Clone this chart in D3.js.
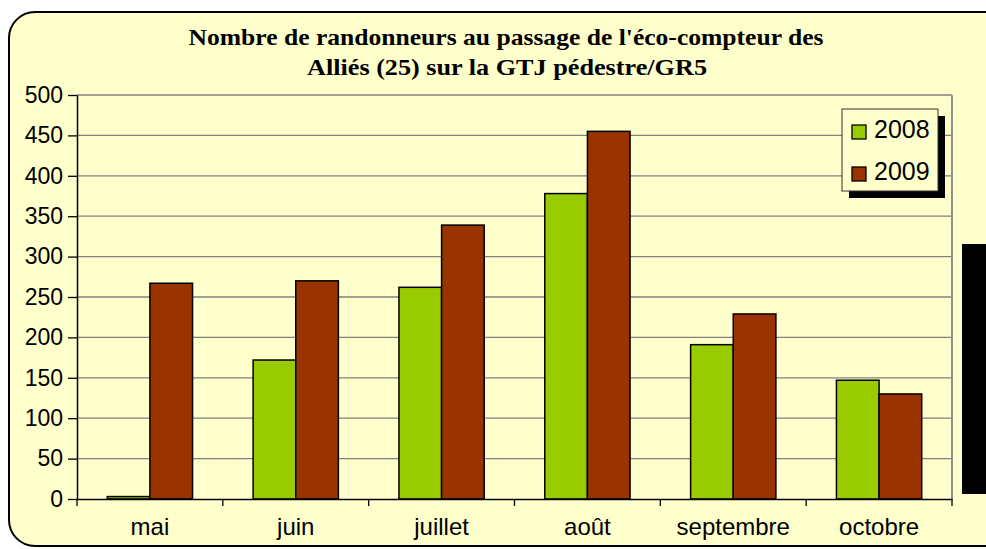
<!DOCTYPE html>
<html>
<head>
<meta charset="utf-8">
<script src="https://cdn.jsdelivr.net/npm/d3@7"></script>
<style>
body { margin: 0; background: #fff; }
</style>
</head>
<body>
<svg id="chart" width="986" height="549"></svg>
<script>
// data
var months = ["mai", "juin", "juillet", "août", "septembre", "octobre"];
var years = ["2008", "2009"];
var v2008 = [3, 172, 262, 378, 191, 147];
var v2009 = [267, 270, 339, 455, 229, 130];
var yTicks = [0, 50, 100, 150, 200, 250, 300, 350, 400, 450, 500];
var colors = ["#99cc00", "#993300"];

var svg = d3.select("#chart");

// outer frame (runs off the right edge)
svg.append("rect")
	.attr("x", 9).attr("y", 12)
	.attr("width", 1010).attr("height", 534)
	.attr("rx", 26).attr("ry", 26)
	.attr("fill", "#ffffcc")
	.attr("stroke", "#000")
	.attr("stroke-width", 2);

// title
var title = svg.append("text")
	.attr("text-anchor", "middle")
	.style("font-family", "'Liberation Serif', 'Times New Roman', serif")
	.style("font-weight", "bold")
	.style("font-size", "23px")
	.attr("fill", "#000");
title.append("tspan").attr("x", 506).attr("y", 45)
	.attr("textLength", 635).attr("lengthAdjust", "spacingAndGlyphs")
	.text("Nombre de randonneurs au passage de l'éco-compteur des");
title.append("tspan").attr("x", 507).attr("y", 75)
	.attr("textLength", 400).attr("lengthAdjust", "spacingAndGlyphs")
	.text("Alliés (25) sur la GTJ pédestre/GR5");

var pLeft = 77, pRight = 952, pTop = 95, pBottom = 499;

var x = d3.scaleBand().domain(months).range([pLeft, pRight]).paddingInner(0).paddingOuter(0);
var x1 = d3.scaleBand().domain(years).range([0, x.bandwidth()]).paddingOuter(0.71).paddingInner(0);
var y = d3.scaleLinear().domain([0, 500]).range([pBottom, pTop]);

// grid lines
svg.append("g")
	.selectAll("line")
	.data(yTicks.slice(1))
	.enter()
	.append("line")
	.attr("x1", pLeft).attr("x2", pRight)
	.attr("y1", function(d) { return y(d); })
	.attr("y2", function(d) { return y(d); })
	.attr("stroke", "#808080")
	.attr("stroke-width", 1.3);

// right border
svg.append("line")
	.attr("x1", pRight).attr("x2", pRight)
	.attr("y1", pTop).attr("y2", pBottom)
	.attr("stroke", "#909090").attr("stroke-width", 2);

// bars
var rows = months.map(function(m, i) { return {month: m, vals: [v2008[i], v2009[i]]}; });
var groups = svg.append("g")
	.selectAll("g")
	.data(rows)
	.enter()
	.append("g")
	.attr("transform", function(d) { return "translate(" + x(d.month) + ",0)"; });
groups.selectAll("rect")
	.data(function(d) { return d.vals.map(function(v, j) { return {year: years[j], v: v, j: j}; }); })
	.enter()
	.append("rect")
	.attr("x", function(d) { return x1(d.year); })
	.attr("width", x1.bandwidth())
	.attr("y", function(d) { return y(d.v); })
	.attr("height", function(d) { return y(0) - y(d.v); })
	.attr("fill", function(d) { return colors[d.j]; })
	.attr("stroke", "#000")
	.attr("stroke-width", 1.5);

// axes
var yAxis = svg.append("g")
	.attr("transform", "translate(" + pLeft + ",0)")
	.call(d3.axisLeft(y).tickValues(yTicks).tickSize(9).tickPadding(5).tickSizeOuter(0));
var xAxis = svg.append("g")
	.attr("transform", "translate(0," + pBottom + ")")
	.call(d3.axisBottom(x).tickSize(0).tickPadding(19).tickSizeOuter(0));
// category boundary ticks
svg.append("g")
	.selectAll("line")
	.data(months.concat(["end"]))
	.enter()
	.append("line")
	.attr("x1", function(d, i) { return pLeft + i * x.bandwidth(); })
	.attr("x2", function(d, i) { return pLeft + i * x.bandwidth(); })
	.attr("y1", pBottom).attr("y2", pBottom + 7)
	.attr("stroke", "#000").attr("stroke-width", 1.3);

[yAxis, xAxis].forEach(function(a) {
	a.select(".domain").attr("stroke", "#000").attr("stroke-width", 1.5);
	a.selectAll(".tick line").attr("stroke", "#000").attr("stroke-width", 1.3);
	a.selectAll("text")
		.style("font-family", "'Liberation Sans', Arial, sans-serif")
		.style("font-size", "23px")
		.attr("fill", "#000");
});
xAxis.selectAll("text").attr("dy", "0.71em").style("font-size", "24px");

// legend
var lg = svg.append("g").attr("transform", "translate(842,109)");
lg.append("rect").attr("x", 7).attr("y", 7).attr("width", 96).attr("height", 82).attr("fill", "#000");
lg.append("rect").attr("x", 0).attr("y", 0).attr("width", 96).attr("height", 82)
	.attr("fill", "#ffffcc").attr("stroke", "#333").attr("stroke-width", 1);
years.forEach(function(yr, i) {
	lg.append("rect")
		.attr("x", 10).attr("y", 16 + i * 42)
		.attr("width", 14).attr("height", 14)
		.attr("fill", colors[i]).attr("stroke", "#000").attr("stroke-width", 1.3);
	lg.append("text")
		.attr("x", 32).attr("y", 29 + i * 42)
		.style("font-family", "'Liberation Sans', Arial, sans-serif")
		.style("font-size", "25px")
		.text(yr);
});

// black block on the right edge
svg.append("rect")
	.attr("x", 962).attr("y", 244)
	.attr("width", 24).attr("height", 250)
	.attr("fill", "#000");
</script>
</body>
</html>
